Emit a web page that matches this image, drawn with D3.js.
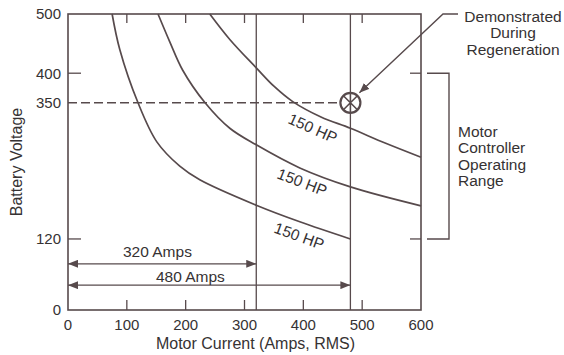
<!DOCTYPE html>
<html>
<head>
<meta charset="utf-8">
<script src="https://cdn.jsdelivr.net/npm/d3@7"></script>
<style>
  body { margin: 0; background: #fff; }
  text { font-family: "Liberation Sans", Arial, sans-serif; fill: #363233; }
</style>
</head>
<body>
<div id="chart"></div>
<script>
// values
var xTicks = [0, 100, 200, 300, 400, 500, 600];
var yTicks = [0, 120, 350, 400, 500];

var curveAAmps  = [75, 88, 119, 151, 190, 224, 320, 394, 480];
var curveAVolts = [500, 440, 350, 284, 243, 220, 177, 149, 120];
var curveBAmps  = [153, 173, 195, 233, 275, 320, 394, 480, 600];
var curveBVolts = [500, 453, 405, 350, 307, 279, 240, 208, 176];
var curveCAmps  = [241, 275, 320, 350, 382, 430, 480, 539, 600];
var curveCVolts = [500, 457, 409, 378, 352, 326, 307, 282, 258];

var hpLabels     = ["150 HP", "150 HP", "150 HP"];
var hpLabelAmps  = [416, 398, 393];
var hpLabelVolts = [307, 216, 125];
var hpLabelAngle = [24, 21, 20];

var limitAmps   = [320, 480];
var limitLabels = ["320 Amps", "480 Amps"];
var limitArrowV = [78, 42];
var limitLabelAmps = [152, 208];

var demoAmps = 480, demoVolts = 350;
var rangeVolts = [400, 120];
var demoText  = ["Demonstrated", "During", "Regeneration"];
var rangeText = ["Motor", "Controller", "Operating", "Range"];

var w = 564, h = 355;
var padL = 68, padR = 421, padT = 14, padB = 310;
var ink = "#574a4c";

var svg = d3.select("#chart").append("svg")
    .attr("width", w)
    .attr("height", h);

var x = d3.scaleLinear().domain([0, 600]).range([padL, padR]);
var y = d3.scaleLinear().domain([0, 500]).range([padB, padT]);

var defs = svg.append("defs");
defs.append("marker")
    .attr("id", "head")
    .attr("viewBox", "0 0 10 8")
    .attr("refX", 10).attr("refY", 4)
    .attr("markerWidth", 10).attr("markerHeight", 8)
    .attr("markerUnits", "userSpaceOnUse")
    .attr("orient", "auto-start-reverse")
    .append("path")
    .attr("d", "M0,0 L10,4 L0,8 Z")
    .attr("fill", ink);

// frame
svg.append("rect")
    .attr("x", padL).attr("y", padT)
    .attr("width", padR - padL).attr("height", padB - padT)
    .attr("fill", "none").attr("stroke", ink).attr("stroke-width", 1.6);

// x ticks, bottom and top, pointing inward
var inner = xTicks.filter(d => d > 0 && d < 600);
svg.selectAll("line.xb").data(inner).enter().append("line")
    .attr("x1", d => x(d)).attr("x2", d => x(d))
    .attr("y1", padB).attr("y2", padB - 10)
    .attr("stroke", ink).attr("stroke-width", 1.3);
svg.selectAll("line.xt").data(inner).enter().append("line")
    .attr("x1", d => x(d)).attr("x2", d => x(d))
    .attr("y1", padT).attr("y2", padT + 9)
    .attr("stroke", ink).attr("stroke-width", 1.3);

svg.selectAll("text.xl").data(xTicks).enter().append("text")
    .attr("x", d => x(d)).attr("y", 330)
    .attr("text-anchor", "middle")
    .style("font-size", "15px")
    .text(d => d);

// y ticks, left and right
svg.selectAll("line.yl").data(rangeVolts).enter().append("line")
    .attr("x1", padL).attr("x2", padL + 13)
    .attr("y1", d => y(d)).attr("y2", d => y(d))
    .attr("stroke", ink).attr("stroke-width", 1.3);
svg.selectAll("line.yr").data(rangeVolts).enter().append("line")
    .attr("x1", padR - 11).attr("x2", padR)
    .attr("y1", d => y(d)).attr("y2", d => y(d))
    .attr("stroke", ink).attr("stroke-width", 1.3);

svg.selectAll("text.yt").data(yTicks).enter().append("text")
    .attr("x", 61).attr("y", d => y(d))
    .attr("dy", "0.36em")
    .attr("text-anchor", "end")
    .style("font-size", "15px")
    .text(d => d);

// axis titles
svg.append("text")
    .attr("x", (padL + padR) / 2 + 11).attr("y", 349)
    .attr("text-anchor", "middle")
    .style("font-size", "16px")
    .text("Motor Current (Amps, RMS)");

svg.append("text")
    .attr("transform", "rotate(-90)")
    .attr("x", -162).attr("y", 22)
    .attr("text-anchor", "middle")
    .style("font-size", "16px")
    .text("Battery Voltage");

// 320 / 480 amp limits
svg.selectAll("line.lim").data(limitAmps).enter().append("line")
    .attr("x1", d => x(d)).attr("x2", d => x(d))
    .attr("y1", padT).attr("y2", padB)
    .attr("stroke", ink).attr("stroke-width", 1.3);

svg.selectAll("line.arr").data(limitAmps).enter().append("line")
    .attr("x1", x(0)).attr("x2", d => x(d))
    .attr("y1", (d, i) => y(limitArrowV[i])).attr("y2", (d, i) => y(limitArrowV[i]))
    .attr("stroke", ink).attr("stroke-width", 1.3)
    .attr("marker-start", "url(#head)")
    .attr("marker-end", "url(#head)");

svg.selectAll("text.arr").data(limitLabels).enter().append("text")
    .attr("x", (d, i) => x(limitLabelAmps[i]))
    .attr("y", (d, i) => y(limitArrowV[i]) - (i === 0 ? 7 : 3.5))
    .attr("text-anchor", "middle")
    .style("font-size", "15.5px")
    .text(d => d);

// 350 V dashed line up to the demonstrated point
svg.append("line")
    .attr("x1", x(0)).attr("x2", x(demoAmps) - 11)
    .attr("y1", y(demoVolts)).attr("y2", y(demoVolts))
    .attr("stroke", ink).attr("stroke-width", 1.4)
    .attr("stroke-dasharray", "9,4");

// constant power curves
var line = d3.line()
    .x(d => x(d[0]))
    .y(d => y(d[1]))
    .curve(d3.curveCatmullRom.alpha(0.5));

var curves = [
    d3.zip(curveAAmps, curveAVolts),
    d3.zip(curveBAmps, curveBVolts),
    d3.zip(curveCAmps, curveCVolts)
];

svg.selectAll("path.hp").data(curves).enter().append("path")
    .attr("d", line)
    .attr("fill", "none")
    .attr("stroke", ink)
    .attr("stroke-width", 1.7);

svg.selectAll("text.hp").data(hpLabels).enter().append("text")
    .attr("transform", (d, i) => "translate(" + x(hpLabelAmps[i]) + "," + y(hpLabelVolts[i]) + ") rotate(" + hpLabelAngle[i] + ")")
    .attr("dy", "0.35em")
    .attr("text-anchor", "middle")
    .style("font-size", "15.5px")
    .text(d => d);

// demonstrated point
var cx = x(demoAmps), cy = y(demoVolts), r = 10;
svg.append("circle")
    .attr("cx", cx).attr("cy", cy).attr("r", r)
    .attr("fill", "#fff").attr("stroke", ink).attr("stroke-width", 2.2);
var k = r * 0.7;
svg.append("path")
    .attr("d", "M" + (cx - k) + "," + (cy - k) + "L" + (cx + k) + "," + (cy + k) +
               "M" + (cx + k) + "," + (cy - k) + "L" + (cx - k) + "," + (cy + k) +
               "M" + cx + "," + (cy - r) + "L" + cx + "," + (cy + r))
    .attr("stroke", ink).attr("stroke-width", 1.6);

// callout arrow
svg.append("path")
    .attr("d", "M458," + padT + "L443," + padT + "L" + (cx + 9) + "," + (cy - 10))
    .attr("fill", "none")
    .attr("stroke", ink).attr("stroke-width", 1.4)
    .attr("marker-end", "url(#head)");

svg.selectAll("text.demo").data(demoText).enter().append("text")
    .attr("x", 513).attr("y", (d, i) => 21.5 + i * 16.7)
    .attr("text-anchor", "middle")
    .style("font-size", "15.5px")
    .text(d => d);

// operating range bracket
svg.append("path")
    .attr("d", "M427," + y(rangeVolts[0]) + "H449V" + y(rangeVolts[1]) + "H427")
    .attr("fill", "none")
    .attr("stroke", ink).attr("stroke-width", 1.4);

svg.selectAll("text.range").data(rangeText).enter().append("text")
    .attr("x", 458).attr("y", (d, i) => 136.5 + i * 16.5)
    .style("font-size", "15.5px")
    .text(d => d);
</script>
</body>
</html>
